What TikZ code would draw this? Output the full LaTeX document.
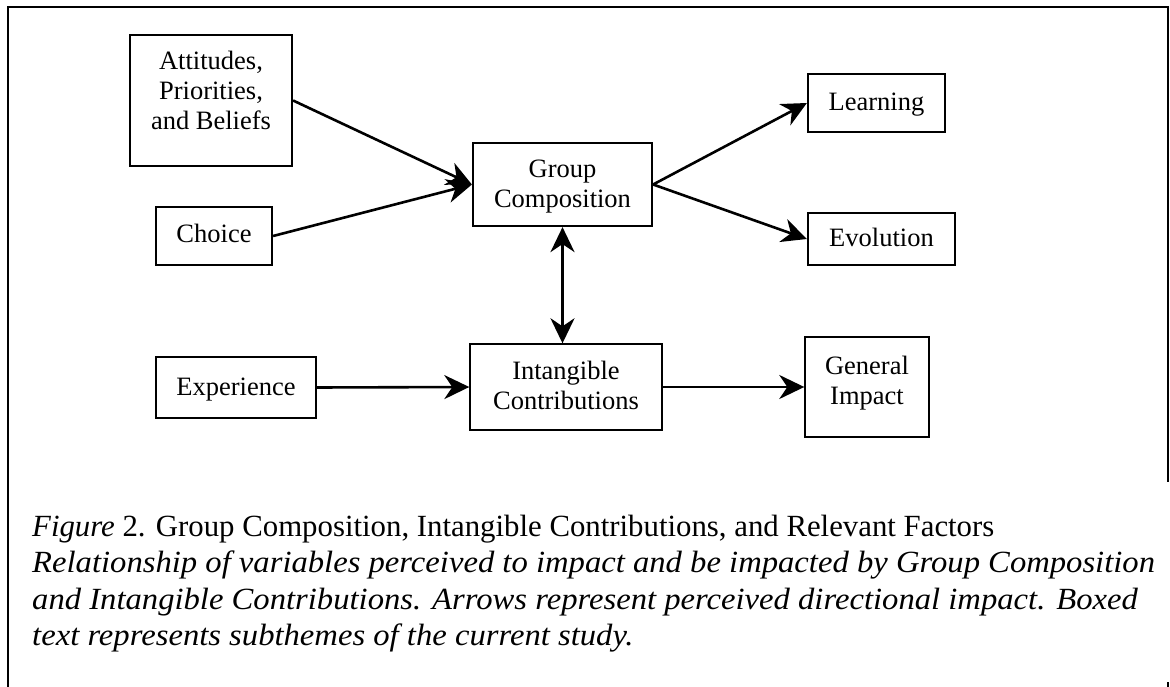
\documentclass[tikz,border=0pt]{standalone}
\usepackage{fontspec}
\setmainfont{Liberation Serif}
\newfontfamily\capwidefont{Liberation Serif}[FakeStretch=1.06]
\newcommand{\capit}[1]{{\capwidefont\itshape #1}}
\usetikzlibrary{arrows.meta}
\begin{document}
\begin{tikzpicture}[x=1pt,y=-1pt,
  box/.style={draw, line width=2.2pt, inner sep=0pt},
  thinbox/.style={draw, line width=1.4pt, inner sep=0pt},
  lbl/.style={align=center, font=\fontsize{26.5}{30}\selectfont, inner sep=0pt, anchor=base},
  link/.style={line width=2.6pt, -{Stealth[length=25pt,width=24pt,inset=8pt]}},
  both/.style={line width=2.6pt, {Stealth[length=25pt,width=24pt,inset=8pt]}-{Stealth[length=25pt,width=24pt,inset=8pt]}},
  frame/.style={line width=2.8pt},
]
\useasboundingbox (0,0) rectangle (1170,687);

% outer frame
\coordinate (fbl) at (8,687);
\coordinate (ftl) at (8,7);
\coordinate (ftr) at (1168,7);
\coordinate (fmr) at (1168,482);
\coordinate (fb1) at (1168,682);
\coordinate (fb2) at (1168,687);
\draw[frame] (fbl) -- (ftl) -- (ftr) -- (fmr);
\draw[frame] (fb1) -- (fb2);

% boxes
\node[box, minimum width=162pt, minimum height=131pt] (att) at (211,100.5) {};
\node[box, minimum width=116pt, minimum height=58pt] (cho) at (214,236) {};
\node[box, minimum width=179pt, minimum height=83pt] (grp) at (562.5,184.5) {};
\node[box, minimum width=137pt, minimum height=58pt] (lrn) at (876.5,103) {};
\node[box, minimum width=147pt, minimum height=52pt] (evo) at (881.5,239) {};
\node[thinbox, minimum width=160pt, minimum height=61pt] (exp) at (236,387.5) {};
\node[thinbox, minimum width=192pt, minimum height=86pt] (int) at (566,387) {};
\node[thinbox, minimum width=124pt, minimum height=100pt] (gen) at (867,387) {};

% box texts (base anchor sits on the last line)
\node[lbl] (att-t) at (211,130) {Attitudes,\\Priorities,\\and Beliefs};
\node[lbl] (cho-t) at (214,243) {Choice};
\node[lbl] (grp-t) at (562.5,208) {Group\\Composition};
\node[lbl] (lrn-t) at (876.5,111) {Learning};
\node[lbl] (evo-t) at (881.5,247) {Evolution};
\node[lbl] (exp-t) at (236,395) {Experience};
\node[lbl] (int-t) at (566,409) {Intangible\\Contributions};
\node[lbl] (gen-t) at (867,404) {General\\Impact};

% connectors
\draw[link] (att.east) -- (grp.west);
\draw[link] (cho.east) -- (grp.west);
\draw[link] (grp.east) -- (lrn.west);
\draw[link] (grp.east) -- (evo.west);
\draw[both] (grp.south) -- (grp.south |- int.north);
\draw[link] (exp.east) -- (int.west);
\draw[link] (int.east) -- (gen.west);

% caption
\node[anchor=base west, align=left, inner sep=0pt,
      font=\fontsize{30.8}{36.5}\selectfont] (cap) at (32,645.5)
  {\textit{Figure} 2. Group Composition, Intangible Contributions, and Relevant Factors\\
   \capit{Relationship of variables perceived to impact and be impacted by Group Composition}\\
   \capit{and Intangible Contributions. Arrows represent perceived directional impact. Boxed}\\
   \capit{text represents subthemes of the current study.}};
\end{tikzpicture}
\end{document}
